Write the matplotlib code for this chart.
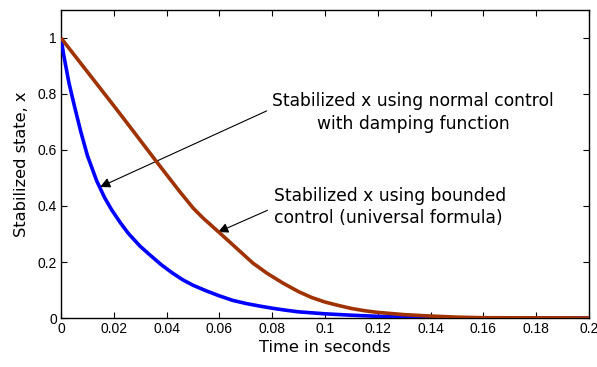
import matplotlib
matplotlib.use("Agg")
import matplotlib.pyplot as plt

# Data
t_blue = [0, 0.001, 0.002, 0.003, 0.005, 0.0075, 0.010, 0.0135, 0.0165, 0.0192,
          0.0225, 0.0255, 0.030, 0.0337, 0.038, 0.042, 0.046, 0.050, 0.055,
          0.060, 0.065, 0.070, 0.075, 0.080, 0.085, 0.090, 0.100, 0.110, 0.120,
          0.130, 0.140, 0.160, 0.200]
x_blue = [1.0, 0.94, 0.89, 0.84, 0.76, 0.665, 0.58, 0.49, 0.43, 0.386,
          0.34, 0.302, 0.256, 0.225, 0.19, 0.162, 0.137, 0.117, 0.097,
          0.079, 0.063, 0.052, 0.043, 0.035, 0.028, 0.022, 0.015, 0.010, 0.006,
          0.003, 0.001, 0.0, 0.0]

t_red = [0, 0.01, 0.02, 0.0261, 0.0362, 0.045, 0.0501, 0.0538, 0.0602,
         0.065, 0.0727, 0.078, 0.084, 0.090, 0.095, 0.100, 0.105, 0.110, 0.115,
         0.120, 0.130, 0.140, 0.150, 0.160, 0.200]
x_red = [1.0, 0.879, 0.758, 0.683, 0.558, 0.451, 0.392, 0.357, 0.303,
         0.262, 0.196, 0.16, 0.125, 0.094, 0.073, 0.057, 0.045, 0.034, 0.026,
         0.020, 0.012, 0.007, 0.003, 0.001, 0.0]

xticks = [0, 0.02, 0.04, 0.06, 0.08, 0.1, 0.12, 0.14, 0.16, 0.18, 0.2]
xtick_labels = ["0", "0.02", "0.04", "0.06", "0.08", "0.1", "0.12", "0.14", "0.16", "0.18", "0.2"]
yticks = [0, 0.2, 0.4, 0.6, 0.8, 1.0]
ytick_labels = ["0", "0.2", "0.4", "0.6", "0.8", "1"]

fig = plt.figure(figsize=(5.97, 3.67), dpi=100)
ax = fig.add_axes([0.1022, 0.1335, 0.8844, 0.8393])

ax.plot(t_blue, x_blue, color="#0000FF", lw=2.6, solid_capstyle="butt", zorder=3)
ax.plot(t_red, x_red, color="#A03200", lw=2.6, solid_capstyle="butt", zorder=4)

ax.set_xlim(0, 0.2)
ax.set_ylim(0, 1.1)
ax.set_xticks(xticks)
ax.set_xticklabels(xtick_labels, family="Liberation Sans", fontsize=10)
ax.set_yticks(yticks)
ax.set_yticklabels(ytick_labels, family="Liberation Sans", fontsize=10)
ax.tick_params(direction="in", top=True, right=True, length=4, width=0.8, pad=3)
for s in ax.spines.values():
    s.set_linewidth(1.0)

ax.set_xlabel("Time in seconds", family="DejaVu Sans", fontsize=11.7, labelpad=3)
ax.set_ylabel("Stabilized state, x", family="DejaVu Sans", fontsize=11.7, labelpad=6)

ax.annotate("Stabilized x using normal control\nwith damping function",
            xy=(0.0148, 0.468), xytext=(0.1333, 0.734),
            ha="center", va="center", multialignment="center",
            family="DejaVu Sans", fontsize=12.3, linespacing=1.3,
            arrowprops=dict(arrowstyle="-|>", color="k", lw=0.8,
                            mutation_scale=15, shrinkA=2, shrinkB=0,
                            relpos=(0.0, 0.6)))
ax.annotate("Stabilized x using bounded\ncontrol (universal formula)",
            xy=(0.0595, 0.307), xytext=(0.0807, 0.395),
            ha="left", va="center", multialignment="left",
            family="DejaVu Sans", fontsize=12.3, linespacing=1.3,
            arrowprops=dict(arrowstyle="-|>", color="k", lw=0.8,
                            mutation_scale=15, shrinkA=3, shrinkB=0,
                            relpos=(0.0, 0.5)))

fig.savefig("out.png", dpi=100)
